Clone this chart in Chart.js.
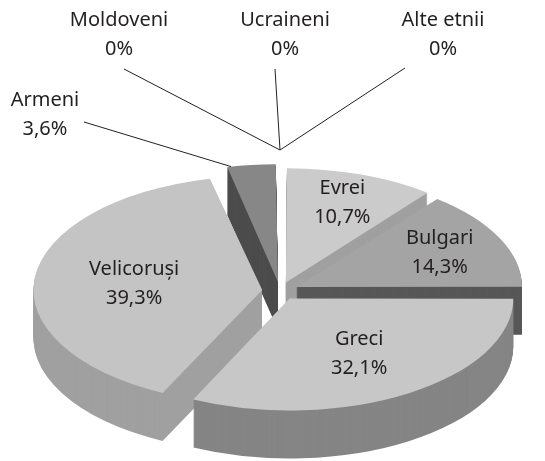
<!DOCTYPE html>
<html>
<head>
<meta charset="utf-8">
<script src="https://cdn.jsdelivr.net/npm/chart.js@4"></script>
<style>
  html, body { margin: 0; padding: 0; background: #fff; }
  #wrap { width: 545px; height: 461px; }
</style>
</head>
<body>
<div id="wrap"><canvas id="chart"></canvas></div>
<script>
const categories = ["Evrei", "Bulgari", "Greci", "Velicoruși", "Armeni", "Moldoveni", "Ucraineni", "Alte etnii"];
const shares = [10.7, 14.3, 32.1, 39.3, 3.6, 0, 0, 0];
const shareLabels = ["10,7%", "14,3%", "32,1%", "39,3%", "3,6%", "0%", "0%", "0%"];

const topColors = ["#cbcbcb", "#a4a4a4", "#c7c7c7", "#c4c4c4", "#878787", "#999", "#999", "#999"];
const sideColors = ["#a0a0a0", "#575757", "#858585", "#a0a0a0", "#4c4c4c", "#666", "#666", "#666"];
// how far out from the centre each inside label sits (share of radius)
const labelReach = [0.74, 0.7, 0.58, 0.55];

// where the tilted pie sits on the page
const view = { cx: 280, cy: 291, radius: 222, tilt: 0.5, depth: 48 };
const textColor = "#231f20";
const font = "20px 'Noto Sans', sans-serif";

// outside labels for the thin slices (text position, line start)
const outside = {
  "Moldoveni": { x: 119, y: 20, lx: 124, ly: 69 },
  "Ucraineni": { x: 285, y: 20, lx: 275, ly: 69 },
  "Alte etnii": { x: 443, y: 20, lx: 405, ly: 68 },
  "Armeni": { x: 45, y: 100, lx: 84, ly: 122 }
};

function applyView(ctx, el, k, dy) {
  ctx.translate(view.cx, view.cy + dy);
  ctx.scale(k, k * view.tilt);
  ctx.translate(-el.x, -el.y);
}

// same shift the arc element uses when it draws an offset slice
function sliceShift(el) {
  const off = (el.options.offset || 0) / 4;
  const fix = 1 - Math.sin(Math.min(Math.PI, el.circumference || 0));
  return off + off * fix;
}

function toScreen(el, k, angle, r, shift) {
  const mid = (el.startAngle + el.endAngle) / 2;
  const px = Math.cos(angle) * r + Math.cos(mid) * shift;
  const py = Math.sin(angle) * r + Math.sin(mid) * shift;
  return [view.cx + k * px, view.cy + k * view.tilt * py];
}

const pie3d = {
  id: "pie3d",
  beforeDatasetsDraw(chart) {
    const ctx = chart.ctx;
    const arcs = chart.getDatasetMeta(0).data;
    const k = view.radius / arcs[0].outerRadius;

    // back slices first, front ones last
    const order = arcs.map((el, i) => i).sort((a, b) => {
      const ma = Math.sin((arcs[a].startAngle + arcs[a].endAngle) / 2);
      const mb = Math.sin((arcs[b].startAngle + arcs[b].endAngle) / 2);
      return ma - mb;
    });

    order.forEach(i => {
      const el = arcs[i];
      if (!el.circumference) return;
      const side = Object.create(el);
      side.options = Object.assign({}, el.options, { backgroundColor: sideColors[i], borderColor: sideColors[i], borderWidth: 0 });
      for (let d = view.depth; d > 0; d--) {
        ctx.save();
        applyView(ctx, el, k, d);
        side.draw(ctx);
        ctx.restore();
      }
      ctx.save();
      applyView(ctx, el, k, 0);
      el.draw(ctx);
      ctx.restore();
    });
    return false;
  },
  afterDraw(chart) {
    const ctx = chart.ctx;
    const arcs = chart.getDatasetMeta(0).data;
    const k = view.radius / arcs[0].outerRadius;
    ctx.save();
    ctx.font = font;
    ctx.fillStyle = textColor;
    ctx.strokeStyle = textColor;
    ctx.lineWidth = 1;
    ctx.textAlign = "center";
    ctx.textBaseline = "middle";

    arcs.forEach((el, i) => {
      const name = categories[i];
      const o = outside[name];
      if (o) {
        ctx.fillText(name, o.x, o.y);
        ctx.fillText(shareLabels[i], o.x, o.y + 29);
        let tip;
        if (el.circumference) {
          tip = toScreen(el, k, el.startAngle + 0.02, el.outerRadius, sliceShift(el));
        } else {
          tip = toScreen(el, k, el.startAngle, el.outerRadius * 1.27, 0);
        }
        ctx.beginPath();
        ctx.moveTo(o.lx, o.ly);
        ctx.lineTo(tip[0], tip[1]);
        ctx.stroke();
        return;
      }
      const mid = (el.startAngle + el.endAngle) / 2;
      const p = toScreen(el, k, mid, el.outerRadius * labelReach[i], sliceShift(el));
      ctx.fillText(name, p[0], p[1] - 14);
      ctx.fillText(shareLabels[i], p[0], p[1] + 15);
    });
    ctx.restore();
  }
};

new Chart(document.getElementById("chart"), {
  type: "pie",
  data: {
    labels: categories,
    datasets: [{
      data: shares,
      backgroundColor: topColors,
      borderWidth: 0,
      offset: 64,
      hoverOffset: 0,
      clip: false
    }]
  },
  options: {
    responsive: true,
    maintainAspectRatio: false,
    animation: false,
    events: [],
    layout: { padding: 0 },
    plugins: { legend: { display: false }, tooltip: { enabled: false } }
  },
  plugins: [pie3d]
});
</script>
</body>
</html>
